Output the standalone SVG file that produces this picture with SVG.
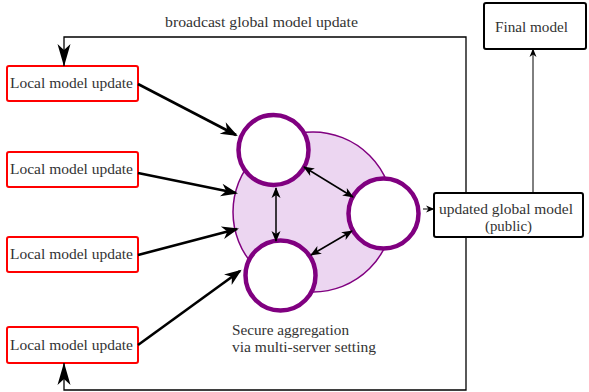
<svg xmlns="http://www.w3.org/2000/svg" width="589" height="392" viewBox="0 0 589 392">
  <style>
    .local rect { fill: #fff; stroke: #ff0000; stroke-width: 2; }
    .box rect { fill: #fff; stroke: #000; stroke-width: 2; }
    .server { fill: #fff; stroke: #800080; stroke-width: 4.5; }
    .thick { stroke: #000; stroke-width: 2.6; fill: none; }
    .dbl { stroke: #000; stroke-width: 1.5; fill: none; }
    .thin { stroke: #000; stroke-width: 1; fill: none; }
    .loop { stroke: #000; stroke-width: 1.3; fill: none; }
  </style>
  <defs>
    <marker id="bigHead" markerUnits="userSpaceOnUse" viewBox="-17 -8 20 16" markerWidth="20" markerHeight="16" refX="0" refY="0" orient="auto">
      <path d="M2,0 L-15,-6.5 L-10,0 L-15,6.5 Z" fill="#000"/>
    </marker>
    <marker id="smallHead" markerUnits="userSpaceOnUse" viewBox="-12 -6 14 12" markerWidth="14" markerHeight="12" refX="0" refY="0" orient="auto-start-reverse">
      <path d="M1,0 L-10,-4.5 L-7,0 L-10,4.5 Z" fill="#000"/>
    </marker>
    <marker id="tinyHead" markerUnits="userSpaceOnUse" viewBox="-10 -5 12 10" markerWidth="12" markerHeight="10" refX="0" refY="0" orient="auto">
      <path d="M0.5,0 L-8,-3.5 L-5.5,0 L-8,3.5 Z" fill="#000"/>
    </marker>
    <marker id="loopHead" markerUnits="userSpaceOnUse" viewBox="-24 -8 26 16" markerWidth="26" markerHeight="16" refX="0" refY="0" orient="auto">
      <path d="M0.5,0 L-22,-6.5 L-16,0 L-22,6.5 Z" fill="#000"/>
    </marker>
  </defs>

  <g font-family="Liberation Serif, serif" font-size="14" fill="#333">
    <!-- aggregation cluster -->
    <g id="aggregation">
      <circle cx="313" cy="212" r="80" fill="#ecd6f1" stroke="#800080" stroke-width="1.5"/>
      <text x="232" y="335" textLength="117" lengthAdjust="spacingAndGlyphs">Secure aggregation</text>
      <text x="232" y="352" textLength="144" lengthAdjust="spacingAndGlyphs">via multi-server setting</text>
    </g>
    <g id="server1"><circle class="server" cx="273.5" cy="150" r="35"/></g>
    <g id="server2"><circle class="server" cx="383.5" cy="213.5" r="35"/></g>
    <g id="server3"><circle class="server" cx="280.5" cy="275.5" r="35"/></g>

    <!-- clients -->
    <g id="local1" class="local">
      <rect x="7" y="66" width="131" height="35" rx="2"/>
      <text x="10" y="88" textLength="123" lengthAdjust="spacingAndGlyphs">Local model update</text>
    </g>
    <g id="local2" class="local">
      <rect x="7" y="152" width="131" height="35" rx="2"/>
      <text x="10" y="174" textLength="123" lengthAdjust="spacingAndGlyphs">Local model update</text>
    </g>
    <g id="local3" class="local">
      <rect x="7" y="237" width="131" height="35" rx="2"/>
      <text x="10" y="259" textLength="123" lengthAdjust="spacingAndGlyphs">Local model update</text>
    </g>
    <g id="local4" class="local">
      <rect x="7" y="327" width="131" height="36" rx="2"/>
      <text x="10" y="350" textLength="123" lengthAdjust="spacingAndGlyphs">Local model update</text>
    </g>

    <!-- global model outputs -->
    <g id="global" class="box">
      <rect x="434" y="193" width="149" height="44" rx="2"/>
      <text x="439" y="214" textLength="134" lengthAdjust="spacingAndGlyphs">updated global model</text>
      <text x="485" y="231" textLength="47" lengthAdjust="spacingAndGlyphs">(public)</text>
    </g>
    <g id="final" class="box">
      <rect x="484" y="3" width="102" height="46" rx="2"/>
      <text x="495" y="32" textLength="73" lengthAdjust="spacingAndGlyphs">Final model</text>
    </g>

    <!-- connectors -->
    <g id="connectors">
      <line class="thick" x1="138" y1="84" x2="236" y2="135" marker-end="url(#bigHead)"/>
      <line class="thick" x1="138" y1="173" x2="236" y2="193" marker-end="url(#bigHead)"/>
      <line class="thick" x1="138" y1="255" x2="237" y2="229" marker-end="url(#bigHead)"/>
      <line class="thick" x1="138" y1="345" x2="240" y2="271" marker-end="url(#bigHead)"/>

      <line class="dbl" x1="276" y1="188" x2="276" y2="241" marker-start="url(#smallHead)" marker-end="url(#smallHead)"/>
      <line class="dbl" x1="304" y1="167" x2="353" y2="197" marker-start="url(#smallHead)" marker-end="url(#smallHead)"/>
      <line class="dbl" x1="352" y1="231" x2="311" y2="255" marker-start="url(#smallHead)" marker-end="url(#smallHead)"/>

      <line class="thin" x1="423" y1="209" x2="434" y2="209" marker-end="url(#tinyHead)"/>
      <line class="thin" x1="533" y1="193" x2="533" y2="49" marker-end="url(#tinyHead)"/>

      <path class="loop" d="M466,193 V37 H64 V66" marker-end="url(#loopHead)"/>
      <path class="loop" d="M466,237 V390 H64 V363" marker-end="url(#loopHead)"/>
      <text x="165" y="27" textLength="193" lengthAdjust="spacingAndGlyphs">broadcast global model update</text>
    </g>
  </g>
</svg>
